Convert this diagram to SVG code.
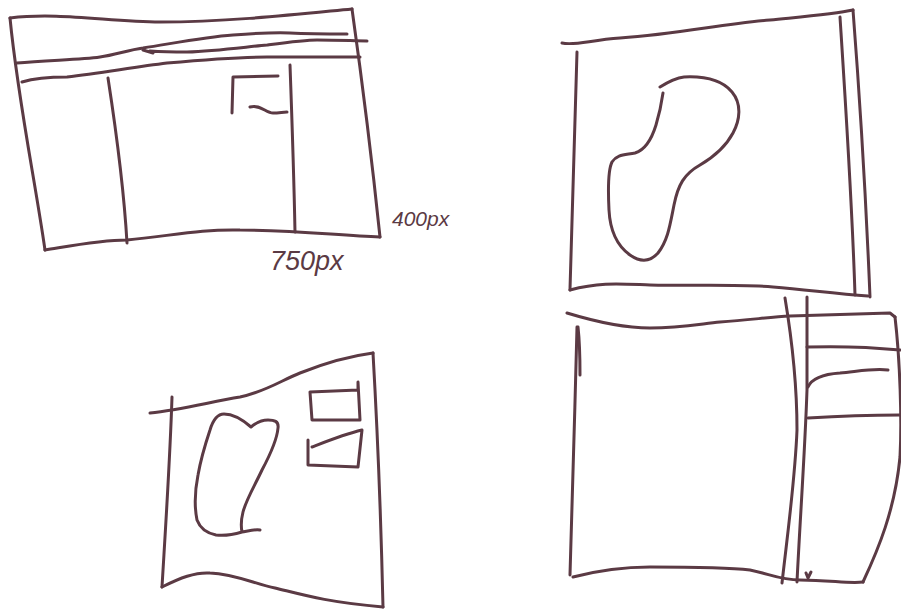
<svg xmlns="http://www.w3.org/2000/svg" width="901" height="614" viewBox="0 0 901 614">
<style>
.s{fill:none;stroke:#5b3a44;stroke-width:3;stroke-linecap:round;stroke-linejoin:round}
.t{fill:#5b3a44;font-family:"Liberation Sans",Arial,sans-serif;font-style:italic}
</style>
<rect width="901" height="614" fill="#ffffff"/>
<g id="sketch-1">
<path class="s" d="M10,18 C60,12 110,22 160,22 C230,22 300,14 352,9"/>
<path class="s" d="M10,18 C18,100 35,180 45,250"/>
<path class="s" d="M45,250 C70,246 100,240 127,240 C170,236 200,229 240,230 C300,230 340,236 380,237"/>
<path class="s" d="M352,9 C362,80 372,160 380,237"/>
<path class="s" d="M17,63 C45,60 80,60 100,57 C115,55 128,50 143,48 C175,43 205,37 233,35 C260,33 275,32 290,33 C310,34 330,34 347,34"/>
<path class="s" d="M143,50 L153,53 M150,51 C165,52 175,52 187,52 C215,51 245,47 267,45 C290,42 305,40 317,40 C340,40 355,41 367,41"/>
<path class="s" d="M22,82 C35,78 50,77 67,77 C100,73 135,67 167,63 C200,60 235,57 267,57 C300,57 335,57 360,57"/>
<path class="s" d="M108,78 C116,130 124,190 127,243"/>
<path class="s" d="M290,65 C292,120 294,180 295,232"/>
<path class="s" d="M232,113 L233,77 L278,76"/>
<path class="s" d="M250,107 C260,104 266,113 273,113 C279,113 283,112 287,112"/>
<text class="t" x="270" y="270" font-size="27">750px</text>
<text class="t" x="392" y="226" font-size="21">400px</text>
</g>
<g id="sketch-2">
<path class="s" d="M562,43 C575,46 590,40 620,38 C680,34 720,24 770,20 C810,16 835,14 853,10"/>
<path class="s" d="M577,52 C575,130 572,210 570,290"/>
<path class="s" d="M570,290 C600,282 620,284 650,285 C700,286 740,284 773,287 C810,290 835,294 868,296"/>
<path class="s" d="M853,10 C860,100 866,200 870,297"/>
<path class="s" d="M840,17 C846,110 852,200 855,295"/>
<path class="s" d="M660,87 C668,82 675,78 684,77 C705,76 722,80 732,92 C742,104 740,120 733,133 C725,148 712,158 700,165 C684,174 678,185 674,205 C670,225 668,240 658,253 C650,262 640,262 630,255 C616,245 610,230 609,210 C608,190 608,170 612,162 C617,154 625,155 635,153 C645,150 652,138 656,125 C660,112 662,100 663,93"/>
</g>
<g id="sketch-3">
<path class="s" d="M150,413 C180,410 210,402 240,397 C265,392 282,380 300,373 C325,363 350,356 373,353"/>
<path class="s" d="M172,397 C170,460 166,520 162,587"/>
<path class="s" d="M373,353 C378,440 381,520 383,607"/>
<path class="s" d="M162,587 C180,578 195,572 210,573 C235,574 255,584 275,588 C300,594 325,602 383,607"/>
<path class="s" d="M251,427 C257,422 263,420 268,420 C274,420 279,421 278,428 C277,440 270,455 262,470 C254,487 246,500 243,512 C241,520 241,527 242,532 C248,531 255,529 260,530 M242,532 C232,535 224,536 216,535 C206,533 200,528 197,520 C194,505 195,490 198,475 C201,458 206,442 210,430 C213,420 217,414 224,414 C233,414 243,420 251,427"/>
<path class="s" d="M310,392 L312,420 L360,420 L358,382 L358,390 L310,392"/>
<path class="s" d="M312,447 C330,440 345,434 362,430 L358,467 L308,465 L308,440"/>
</g>
<g id="sketch-4">
<path class="s" d="M567,313 C590,320 620,328 650,328 C680,328 700,324 720,322 C750,320 770,317 790,316 C830,315 860,314 890,313 L895,317"/>
<path class="s" d="M577,327 C575,410 572,500 570,575"/>
<path class="s" d="M578,327 C580,345 580,360 580,375"/>
<path class="s" d="M573,577 C600,570 625,567 650,567 C690,567 725,567 750,570 C770,574 780,580 800,580 C830,580 850,584 863,582"/>
<path class="s" d="M895,317 C900,360 902,420 900,457 C895,510 878,550 863,582"/>
<path class="s" d="M785,298 C792,340 797,385 797,430 C795,480 788,530 782,583"/>
<path class="s" d="M807,297 C807,330 807,360 807,390 C805,450 800,520 797,582"/>
<path class="s" d="M807,347 C840,346 870,347 900,350"/>
<path class="s" d="M808,387 C812,378 825,374 840,373 C860,371 875,368 888,370"/>
<path class="s" d="M808,418 C840,416 870,415 900,415"/>
<path class="s" d="M806,573 L808,578 L811,572" stroke-width="2"/>
</g>
</svg>
